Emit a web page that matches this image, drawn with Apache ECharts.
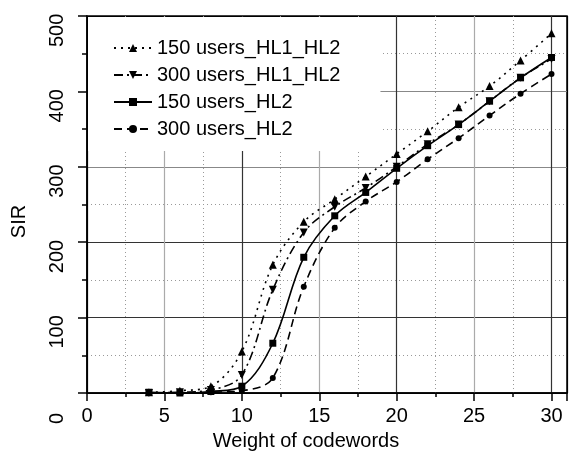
<!DOCTYPE html>
<html><head><meta charset="utf-8">
<script src="https://cdn.jsdelivr.net/npm/echarts@6/dist/echarts.min.js"></script>
<style>html,body{margin:0;padding:0;background:#fff}#c{width:574px;height:456px}</style>
</head><body><div id="c"></div>
<script>
var weights = [4,6,8,10,12,14,16,18,20,22,24,26,28,30];
var users150HL1HL2 = [1,3,9,55,170,227,257,287,317,347,379,407,441,477];
var users300HL1HL2 = [0,1,4,24,137,213,247,272,300,330,356,387,418,443];
var users150HL2 = [1,0,2,9,66,180,235,266,298,328,356,387,418,445];
var users300HL2 = [0,0,1,3,20,141,219,254,280,310,338,368,397,423];
var seriesNames = ['150 users_HL1_HL2','300 users_HL1_HL2','150 users_HL2','300 users_HL2'];
var xTicks = [0,5,10,15,20,25,30];
var yTicks = [0,100,200,300,400,500];

function pairs(v){ return weights.map(function(w,i){ return [w, v[i]]; }); }
var FONT = 'Liberation Sans, Arial, sans-serif';
var styles = [
  {data: users150HL1HL2, symbol:'triangle', size:8, dash:[2,5]},
  {data: users300HL1HL2, symbol:'path://M0,0 L10,0 L5,9 Z', size:8, dash:[9,4,2,4]},
  {data: users150HL2, symbol:'rect', size:7, dash:'solid'},
  {data: users300HL2, symbol:'circle', size:6, dash:[8,5]}
];
var chart = echarts.init(document.getElementById('c'), null, {renderer:'canvas'});
chart.setOption({
  animation:false,
  backgroundColor:'#fff',
  grid:{left:87, top:16, right:7, bottom:63, show:true, borderColor:'#000', borderWidth:1.5, backgroundColor:'transparent'},
  legend:{
    orient:'vertical', left:88, top:17,
    padding:[21,40,12,25], itemGap:7, itemWidth:38, itemHeight:10,
    backgroundColor:'#fff', borderWidth:0,
    textStyle:{fontFamily:FONT, fontSize:20, color:'#000'},
    data: seriesNames
  },
  xAxis:{
    type:'value', min:0, max:31, interval:5,
    name:'Weight of codewords', nameLocation:'middle', nameGap:38,
    nameTextStyle:{fontFamily:FONT, fontSize:20, color:'#000', padding:[0,42,0,0]},
    axisLine:{show:true, onZero:false, lineStyle:{color:'#000', width:1.5}},
    axisTick:{show:true, inside:false, length:8, lineStyle:{color:'#000', width:1.5}},
    minorTick:{show:true, splitNumber:2, length:4, lineStyle:{color:'#000', width:1.5}},
    axisLabel:{fontFamily:FONT, fontSize:20, color:'#000', margin:13,
      customValues: xTicks},
    splitLine:{show:true, lineStyle:{color:['#000','#aaa','#333','#aaa','#333','#aaa','#333','#000'], width:1.2}},
    minorSplitLine:{show:true, lineStyle:{color:'#999', type:[1,3], width:1}}
  },
  yAxis:{
    type:'value', min:0, max:500, interval:100,
    name:'SIR', nameLocation:'middle', nameGap:58, nameRotate:90,
    nameTextStyle:{fontFamily:FONT, fontSize:20, color:'#000', padding:[0,34,0,0]},
    axisLine:{show:true, lineStyle:{color:'#000', width:1.5}},
    axisTick:{show:true, inside:false, length:9, lineStyle:{color:'#000', width:1.5}},
    minorTick:{show:true, splitNumber:2, length:5, lineStyle:{color:'#000', width:1.5}},
    axisLabel:{fontFamily:FONT, fontSize:20, color:'#000', rotate:90, margin:20,
      customValues: yTicks,
      align:'left', verticalAlign:'bottom', padding:[0,0,0,-31]},
    splitLine:{show:true, lineStyle:{color:['#000','#333','#333','#888','#888','#000'], width:1.2}},
    minorSplitLine:{show:true, lineStyle:{color:'#999', type:[1,3], width:1}}
  },
  series: styles.map(function(s,i){
    return {
      name: seriesNames[i], type:'line', data: pairs(s.data), smooth:0.35,
      symbol: s.symbol, symbolSize: s.size, showSymbol:true,
      itemStyle:{color:'#000'},
      lineStyle:{color:'#000', width:1.6, type:s.dash},
      z: 3+i
    };
  })
});
</script></body></html>
